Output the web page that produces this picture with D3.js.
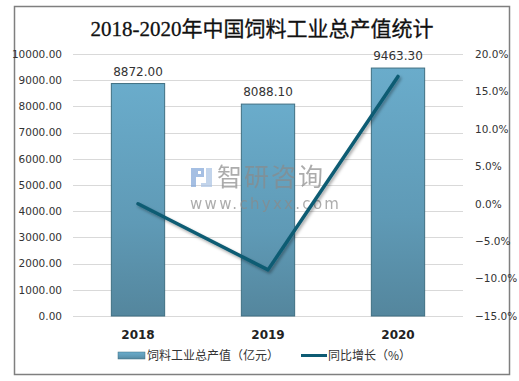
<!DOCTYPE html>
<html>
<head>
<meta charset="utf-8">
<script src="https://cdn.jsdelivr.net/npm/d3@7/dist/d3.min.js"></script>
<style>
  body { margin: 0; background: #fff; }
  text { font-family: "Noto Sans CJK SC", "DejaVu Sans", sans-serif; }
</style>
</head>
<body>
<div id="chart"></div>
<script>
// data
let years = ["2018", "2019", "2020"];
let output = [8872.00, 8088.10, 9463.30];
let growth = [0.0, -8.84, 17.0];
let leftTicks = [0, 1000, 2000, 3000, 4000, 5000, 6000, 7000, 8000, 9000, 10000];
let rightTicks = [-15, -10, -5, 0, 5, 10, 15, 20];

let width = 519, height = 381;
let svg = d3.select('#chart').append('svg')
  .attr('width', width)
  .attr('height', height)

// outer frame
svg.append('rect')
  .attr('x', 14.5).attr('y', 6.5)
  .attr('width', 495).attr('height', 368)
  .attr('fill', 'none')
  .attr('stroke', '#7f7f7f')
  .attr('stroke-width', 1.5)

// title
svg.append('text')
  .attr('x', 262).attr('y', 36)
  .attr('text-anchor', 'middle')
  .style('font-family', '"Liberation Serif", "Noto Sans CJK SC", serif')
  .style('font-size', '21px')
  .attr('fill', '#111')
  .attr('stroke', '#111').attr('stroke-width', 0.3)
  .text('2018-2020年中国饲料工业总产值统计')

let plotL = 73, plotR = 463, plotT = 54, plotB = 316;

let x = d3.scaleBand()
  .domain(years)
  .range([plotL, plotR])
  .paddingInner(0.59)
  .paddingOuter(0.295);

let y = d3.scaleLinear().domain([0, 10000]).range([plotB, plotT]);
let y2 = d3.scaleLinear().domain([-15, 20]).range([plotB, plotT]);

// gridlines
svg.append('g').selectAll('line')
  .data(leftTicks)
  .enter().append('line')
  .attr('x1', plotL).attr('x2', plotR)
  .attr('y1', d => Math.round(y(d)) + 0.5)
  .attr('y2', d => Math.round(y(d)) + 0.5)
  .attr('stroke', '#d9d9d9')

// left axis
let leftAxis = d3.axisLeft(y).tickValues(leftTicks).tickFormat(d3.format('.2f')).tickSize(0).tickPadding(10);
let gl = svg.append('g').attr('transform', 'translate(' + plotL + ',0)').call(leftAxis);
gl.select('.domain').remove();
gl.selectAll('text').style('font-size', '10.5px').attr('fill', '#333')
  .style('font-family', '"DejaVu Sans", sans-serif').attr('dx', -1);

// right axis
let rightAxis = d3.axisRight(y2).tickValues(rightTicks).tickFormat(d => d3.format('.1f')(d) + '%').tickSize(0).tickPadding(12);
let gr = svg.append('g').attr('transform', 'translate(' + plotR + ',0)').call(rightAxis);
gr.select('.domain').remove();
gr.selectAll('text').style('font-size', '10.5px').attr('fill', '#333')
  .style('font-family', '"DejaVu Sans", sans-serif');

// bottom category labels
svg.append('g').selectAll('text')
  .data(years)
  .enter().append('text')
  .attr('x', d => x(d) + x.bandwidth() / 2)
  .attr('y', 339)
  .attr('text-anchor', 'middle')
  .style('font-size', '12px')
  .style('font-weight', 'bold')
  .style('font-family', '"DejaVu Sans", sans-serif')
  .attr('fill', '#222')
  .text(d => d)

// gradient for bars
let defs = svg.append('defs');
let grad = defs.append('linearGradient').attr('id', 'barGrad')
  .attr('x1', 0).attr('y1', 0).attr('x2', 0).attr('y2', 1);
grad.append('stop').attr('offset', '0%').attr('stop-color', '#6aaccb');
grad.append('stop').attr('offset', '60%').attr('stop-color', '#5f9ab6');
grad.append('stop').attr('offset', '100%').attr('stop-color', '#54869d');

let shadow = defs.append('filter').attr('id', 'shadow')
  .attr('x', '-20%').attr('y', '-20%').attr('width', '140%').attr('height', '140%');
shadow.append('feDropShadow').attr('dx', 1.5).attr('dy', 2).attr('stdDeviation', 1.5)
  .attr('flood-color', '#000').attr('flood-opacity', 0.35);

// bars
svg.append('g').selectAll('rect')
  .data(output)
  .enter().append('rect')
  .attr('x', (d, i) => x(years[i]))
  .attr('y', d => y(d))
  .attr('width', x.bandwidth())
  .attr('height', d => plotB - y(d))
  .attr('fill', 'url(#barGrad)')
  .attr('stroke', '#3f6f82')
  .attr('stroke-width', 1)

// value labels
svg.append('g').selectAll('text')
  .data(output)
  .enter().append('text')
  .attr('x', (d, i) => x(years[i]) + x.bandwidth() / 2)
  .attr('y', d => y(d) - 8)
  .attr('text-anchor', 'middle')
  .style('font-size', '12px')
  .style('font-family', '"DejaVu Sans", sans-serif')
  .attr('fill', '#333')
  .text(d => d3.format('.2f')(d))

// watermark
let wm = svg.append('g').attr('opacity', 0.7);
// little logo
wm.append('path')
  .attr('d', 'M191,168 h13 v9 h-8 v10 h-5 z M198,171 h3 v3 h-3 z')
  .attr('fill', '#7fa5d8')
  .attr('fill-rule', 'evenodd')
wm.append('path')
  .attr('d', 'M206,168 h6 v19 h-11 v-4 h5 z')
  .attr('fill', '#a9c2e3')
wm.append('text')
  .attr('x', 217).attr('y', 186)
  .style('font-size', '25px')
  .style('letter-spacing', '2px')
  .attr('fill', '#8a8a8a')
  .text('智研咨询')
wm.append('text')
  .attr('x', 190).attr('y', 209)
  .style('font-size', '15px')
  .style('letter-spacing', '2.3px')
  .style('font-family', '"DejaVu Sans", sans-serif')
  .attr('fill', '#8a8a8a')
  .text('www.chyxx.com')

// growth line
let line = d3.line()
  .x((d, i) => x(years[i]) + x.bandwidth() / 2)
  .y(d => y2(d));

svg.append('path')
  .datum(growth)
  .attr('d', line)
  .attr('fill', 'none')
  .attr('stroke', '#0d5b73')
  .attr('stroke-width', 3.5)
  .attr('stroke-linecap', 'round')
  .attr('stroke-linejoin', 'round')
  .attr('filter', 'url(#shadow)')

// legend
let lg = svg.append('g');
lg.append('rect')
  .attr('x', 118).attr('y', 352).attr('width', 27).attr('height', 7)
  .attr('fill', 'url(#barGrad)')
  .attr('stroke', '#3f6f82').attr('stroke-width', 0.5)
lg.append('text')
  .attr('x', 147).attr('y', 360)
  .style('font-size', '12px')
  .attr('fill', '#333')
  .text('饲料工业总产值（亿元）')
lg.append('line')
  .attr('x1', 301).attr('x2', 327)
  .attr('y1', 355.5).attr('y2', 355.5)
  .attr('stroke', '#0d5b73').attr('stroke-width', 3)
lg.append('text')
  .attr('x', 328).attr('y', 360)
  .style('font-size', '12px')
  .attr('fill', '#333')
  .text('同比增长（%）')
</script>
</body>
</html>
